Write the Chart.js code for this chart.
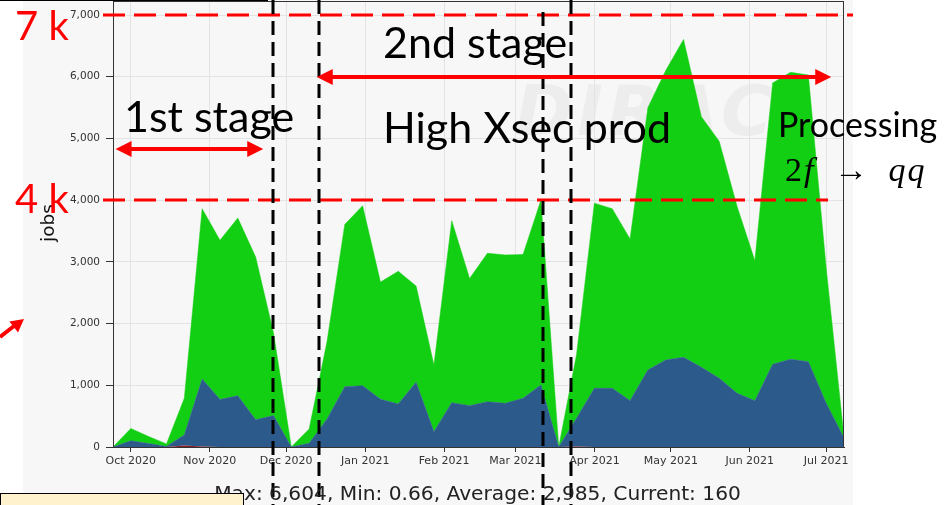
<!DOCTYPE html>
<html>
<head>
<meta charset="utf-8">
<title>DIRAC jobs</title>
<script src="https://cdn.jsdelivr.net/npm/chart.js@4.4.1/dist/chart.umd.min.js"></script>
<style>
  html, body { margin: 0; padding: 0; background: #fff; }
  #wrap { position: relative; width: 945px; height: 505px; overflow: hidden; font-family: Lato, "Open Sans", sans-serif; }
  #figbg { position: absolute; left: 23px; top: 0; width: 830px; height: 505px; background: #f7f7f7; }
  #mark { position: absolute; left: 515px; top: 70px; font: italic bold 70px "DejaVu Sans", sans-serif; color: rgba(0, 0, 0, 0.04); letter-spacing: 4px; }
  #chart { position: absolute; left: 0; top: 0; }
  .note { position: absolute; white-space: nowrap; line-height: 1; color: #000; }
  .red { color: #ff0000; }
  #ylab { position: absolute; left: 48px; top: 223px; transform: translate(-50%, -50%) rotate(-90deg); font: 18.5px "DejaVu Sans", sans-serif; color: #111; line-height: 1; }
  #stats { position: absolute; left: 0; width: 955px; top: 483px; text-align: center; font: 20.2px "DejaVu Sans", sans-serif; color: #222; line-height: 1; white-space: nowrap; }
  #box { position: absolute; left: 0; top: 493px; width: 244px; height: 20px; background: #fff2cc; border: 1.5px solid #000; box-sizing: border-box; }
  #topline { position: absolute; left: 0; top: 0; width: 268px; height: 1px; background: #000; }
</style>
</head>
<body>
<div id="wrap">
  <div id="figbg"></div>
  <div id="mark">DIRAC</div>
  <canvas id="chart" width="945" height="505"></canvas>
  <div id="topline"></div>
  <div id="ylab">jobs</div>
  <div id="stats">Max: 6,604, Min: 0.66, Average: 2,985, Current: 160</div>
  <div id="box"></div>
  <div class="note red" style="left:15px; top:5px; font-size:40px;">7 k</div>
  <div class="note red" style="left:15px; top:178px; font-size:40px;">4 k</div>
  <div class="note" style="left:124px; top:94px; font-size:43px;">1st stage</div>
  <div class="note" style="left:383px; top:20px; font-size:43px;">2nd stage</div>
  <div class="note" style="left:383px; top:105px; font-size:43px;">High Xsec prod</div>
  <div class="note" style="left:778px; top:107px; font-size:34px;">Processing</div>
  <div class="note" style="left:785px; top:151px; font: 34px 'Liberation Serif', serif; letter-spacing: 2px; word-spacing: 8px;">2<i>f</i> &rarr; <i>qq</i></div>
</div>
<script>
// weekly points, first week starts 2020-09-24
const firstWeek = "2020-09-24";
const jobsRed   = [0, 0, 0, 0, 25, 10, 0, 0, 0, 0, 0, 0, 0, 0, 0, 0, 0, 0, 0, 0, 0,
                   0, 0, 0, 0, 0, 10, 0, 0, 0, 0, 0, 0, 0, 0, 0, 0, 0, 0, 0, 0, 0];
const jobsBlue  = [0, 100, 55, 10, 170, 1090, 770, 830, 440, 510, 0, 60, 450, 977, 994, 772, 697, 1048, 248, 718, 670,
                   734, 707, 789, 1005, 0, 455, 951, 951, 751, 1248, 1410, 1453, 1291, 1113, 870, 750, 1340, 1421, 1383, 707, 145];
const jobsGreen = [0, 200, 115, 40, 595, 2760, 2580, 2880, 2640, 1340, 0, 230, 1250, 2630, 2915, 1900, 2150, 1560, 1080, 2950, 2060,
                   2405, 2405, 2330, 2995, 0, 1035, 3000, 2910, 2620, 4250, 4690, 5150, 4060, 3840, 3030, 2270, 4560, 4650, 4645, 2195, 15];

const monthStarts = ["2020-10-01", "2020-11-01", "2020-12-01", "2021-01-01", "2021-02-01",
                     "2021-03-01", "2021-04-01", "2021-05-01", "2021-06-01", "2021-07-01"];
const monthLabels = ["Oct 2020", "Nov 2020", "Dec 2020", "Jan 2021", "Feb 2021",
                     "Mar 2021", "Apr 2021", "May 2021", "Jun 2021", "Jul 2021"];
const yTicks = [0, 1000, 2000, 3000, 4000, 5000, 6000, 7000];

// slide annotations
const stageBounds = ["2020-11-26", "2020-12-14", "2021-03-12", "2021-03-23"];
const levelLines = [7000, 4000];
const stageArrows = [
    { from: "2020-09-25", to: "2020-11-22", level: 4830 },
    { from: "2020-12-13", to: "2021-07-03", level: 6000 },
];

const DAY = 86400000;
const dayOf = (s) => (Date.parse(s) - Date.parse(firstWeek)) / DAY;
const lastDay = (jobsBlue.length - 1) * 7;
const toPoints = (arr) => arr.map((v, i) => ({ x: i * 7, y: v }));

function arrowHead(ctx, x, y, angle, len, half) {
    ctx.save();
    ctx.translate(x, y);
    ctx.rotate(angle);
    ctx.beginPath();
    ctx.moveTo(0, 0);
    ctx.lineTo(-len, -half);
    ctx.lineTo(-len, half);
    ctx.closePath();
    ctx.fill();
    ctx.restore();
}

const overlay = {
    id: "overlay",
    afterDraw(chart) {
        const { ctx, chartArea: a, scales } = chart;
        const x = scales.x;
        const y = scales.y;
        ctx.save();

        // plot frame
        ctx.strokeStyle = "#333";
        ctx.lineWidth = 1;
        ctx.strokeRect(a.left + 0.5, a.top + 0.5, a.right - a.left - 1, a.bottom - a.top);

        // red level lines
        ctx.strokeStyle = "#ff0000";
        ctx.lineWidth = 3;
        ctx.setLineDash([22, 9]);
        levelLines.forEach((v, i) => {
            const py = Math.round(y.getPixelForValue(v));
            ctx.beginPath();
            ctx.moveTo(a.left - 10, py);
            ctx.lineTo(i === 0 ? a.right + 9 : a.right - 16, py);
            ctx.stroke();
        });

        // black stage boundaries
        ctx.strokeStyle = "#000";
        ctx.lineWidth = 3;
        ctx.setLineDash([14, 7]);
        stageBounds.forEach((d, i) => {
            const px = Math.round(x.getPixelForValue(dayOf(d)));
            ctx.beginPath();
            ctx.moveTo(px, i === 2 ? 12 : 0);
            ctx.lineTo(px, 505);
            ctx.stroke();
        });

        // red stage arrows
        ctx.setLineDash([]);
        ctx.strokeStyle = "#ff0000";
        ctx.fillStyle = "#ff0000";
        ctx.lineWidth = 4;
        stageArrows.forEach((s) => {
            const x1 = x.getPixelForValue(dayOf(s.from));
            const x2 = x.getPixelForValue(dayOf(s.to));
            const py = Math.round(y.getPixelForValue(s.level));
            ctx.beginPath();
            ctx.moveTo(x1 + 10, py);
            ctx.lineTo(x2 - 10, py);
            ctx.stroke();
            arrowHead(ctx, x1, py, Math.PI, 16, 8);
            arrowHead(ctx, x2, py, 0, 16, 8);
        });

        // small pointer on the left
        ctx.beginPath();
        ctx.moveTo(0, 337);
        ctx.lineTo(14, 326);
        ctx.stroke();
        arrowHead(ctx, 24, 319, -0.66, 13, 7);

        ctx.restore();
    },
};

new Chart(document.getElementById("chart"), {
    type: "line",
    data: {
        datasets: [
            {
                label: "red",
                data: toPoints(jobsRed),
                backgroundColor: "#8b1c2c",
                borderColor: "#8b1c2c",
                borderWidth: 0,
                pointRadius: 0,
                fill: "origin",
            },
            {
                label: "blue",
                data: toPoints(jobsBlue),
                backgroundColor: "#2b5a8b",
                borderColor: "#2b5a8b",
                borderWidth: 0.5,
                pointRadius: 0,
                fill: "-1",
            },
            {
                label: "green",
                data: toPoints(jobsGreen),
                backgroundColor: "#13cf13",
                borderColor: "#13cf13",
                borderWidth: 0.5,
                pointRadius: 0,
                fill: "-1",
            },
        ],
    },
    options: {
        responsive: false,
        animation: false,
        devicePixelRatio: 1,
        layout: { padding: { left: 23, right: 101, top: 1, bottom: 28 } },
        plugins: {
            legend: { display: false },
            tooltip: { enabled: false },
        },
        elements: { line: { tension: 0 } },
        scales: {
            x: {
                type: "linear",
                min: 0,
                max: lastDay,
                afterBuildTicks: (axis) => {
                    axis.ticks = monthStarts.map((d) => ({ value: dayOf(d) }));
                },
                afterFit: (axis) => {
                    axis.height = 30;
                    axis.paddingLeft = 0;
                    axis.paddingRight = 0;
                },
                grid: {
                    color: "#e3e3e3",
                    tickColor: "#333",
                    tickLength: 5,
                },
                border: { display: true, color: "#333" },
                ticks: {
                    autoSkip: false,
                    maxRotation: 0,
                    padding: 3,
                    color: "#333",
                    font: { family: "DejaVu Sans", size: 11 },
                    callback: (value, index) => monthLabels[index],
                },
            },
            y: {
                stacked: true,
                min: 0,
                max: 7227,
                afterBuildTicks: (axis) => {
                    axis.ticks = yTicks.map((v) => ({ value: v }));
                },
                afterFit: (axis) => {
                    axis.width = 90;
                    axis.paddingTop = 0;
                    axis.paddingBottom = 0;
                },
                grid: {
                    color: "#e3e3e3",
                    tickColor: "#333",
                    tickLength: 7,
                },
                border: { display: true, color: "#333" },
                ticks: {
                    padding: 6,
                    color: "#333",
                    font: { family: "DejaVu Sans", size: 10.5 },
                    callback: (value) => value.toLocaleString("en-US"),
                },
            },
        },
    },
    plugins: [overlay],
});
</script>
</body>
</html>
